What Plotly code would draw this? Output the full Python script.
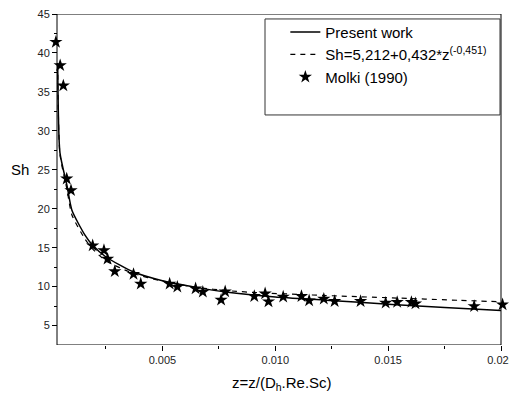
import plotly.graph_objects as go

# Present work (solid line)
present_z = [0.00036, 0.00046, 0.00077, 0.00099, 0.00157, 0.00188, 0.0025, 0.0037,
             0.005, 0.0065, 0.0078, 0.010, 0.01225, 0.01518, 0.0175, 0.0200]
present_sh = [38.7, 27.2, 23.0, 19.8, 16.6, 15.4, 13.8, 11.9,
              10.75, 9.9, 9.3, 8.65, 8.25, 7.7, 7.3, 6.92]

# Correlation Sh=5,212+0,432*z^(-0,451) (dashed line)
corr_z = [0.00036, 0.00046, 0.00077, 0.00099, 0.00157, 0.00188, 0.0025, 0.0037,
          0.005, 0.0065, 0.008, 0.0093, 0.011, 0.01225, 0.01518, 0.01814, 0.0200]
corr_sh = [38.5, 27.0, 22.5, 19.2, 16.1, 14.9, 13.3, 11.7,
           10.7, 9.9, 9.45, 9.2, 9.0, 8.85, 8.55, 8.24, 8.05]

# Molki (1990) experimental points
molki_z = [0.00028, 0.00047, 0.00061, 0.00076, 0.00095, 0.00191, 0.00241, 0.00257,
           0.00289, 0.00372, 0.00404, 0.00532, 0.00566, 0.00647, 0.00679, 0.0076,
           0.00778, 0.00907, 0.00955, 0.0097, 0.01035, 0.01116, 0.0115, 0.01215,
           0.01263, 0.01378, 0.01489, 0.0154, 0.01603, 0.01621, 0.01881, 0.02007]
molki_sh = [41.4, 38.4, 35.8, 23.85, 22.35, 15.26, 14.65, 13.55,
            11.96, 11.6, 10.35, 10.35, 9.96, 9.74, 9.32, 8.29,
            9.36, 8.76, 9.1, 8.08, 8.68, 8.76, 8.2, 8.42,
            8.12, 8.12, 7.9, 8.0, 8.0, 7.82, 7.47, 7.69]

# axis frame limits and the slightly wider drawing area (so edge stars show)
frame_x = [0.00033, 0.0200]
draw_x = [0.000241, 0.020133]
y_range = [2.5, 45]
x_ticks = [0.005, 0.010, 0.015, 0.020]
x_ticklabels = ["0.005", "0.010", "0.015", "0.020"]
y_ticks = [5, 10, 15, 20, 25, 30, 35, 40, 45]

font = "Liberation Sans, Arial, sans-serif"

fig = go.Figure()
fig.add_trace(go.Scatter(x=present_z, y=present_sh, mode="lines", name="Present work",
                         line=dict(color="black", width=1.5, shape="spline", smoothing=0.6),
                         legendgroup="a"))
fig.add_trace(go.Scatter(x=corr_z, y=corr_sh, mode="lines",
                         name="Sh=5,212+0,432*z<sup>(-0,451)</sup>",
                         line=dict(color="black", width=1.2, dash="5px,5px", shape="spline", smoothing=0.6),
                         legendgroup="b"))
fig.add_trace(go.Scatter(x=molki_z, y=molki_sh, mode="markers", name="Molki (1990)",
                         marker=dict(symbol="star", size=10, color="black", line=dict(width=0)),
                         cliponaxis=False, legendgroup="c"))

ypos = (57 - 55) / 449.0

fig.update_layout(
    width=509, height=396,
    margin=dict(l=55, r=5, t=14, b=51, autoexpand=False),
    paper_bgcolor="white", plot_bgcolor="white",
    font=dict(family=font, color="black"),
    showlegend=True,
    legend=dict(x=0.513, y=0.995, xanchor="left", yanchor="top",
                bgcolor="rgba(0,0,0,0)", borderwidth=0,
                font=dict(size=15, family=font, color="black"),
                tracegroupgap=0, traceorder="grouped"),
    shapes=[
        dict(type="rect", xref="x", yref="y",
             x0=frame_x[0], x1=frame_x[1], y0=y_range[0], y1=y_range[1],
             line=dict(color="black", width=1), fillcolor="rgba(0,0,0,0)", layer="above"),
        dict(type="rect", xref="paper", yref="paper",
             x0=(265 - 55) / 449.0, x1=(500 - 55) / 449.0, y0=0.695, y1=0.985,
             line=dict(color="#333", width=1), fillcolor="rgba(0,0,0,0)"),
    ],
    annotations=[
        dict(text="Sh", xref="paper", yref="paper", x=-0.078, y=0.53,
             xanchor="center", yanchor="middle", showarrow=False,
             font=dict(size=15, family=font, color="black")),
        dict(text="z=z/(D<sub>h</sub>.Re.Sc)", xref="paper", yref="paper", x=0.505, y=-0.115,
             xanchor="center", yanchor="middle", showarrow=False,
             font=dict(size=15, family=font, color="black")),
    ],
)

fig.update_xaxes(range=draw_x, showgrid=False, zeroline=False, showline=False,
                 automargin=False,
                 tickmode="array", tickvals=x_ticks, ticktext=x_ticklabels,
                 ticks="outside", ticklen=5, tickwidth=1, tickcolor="black",
                 ticklabeloverflow="allow",
                 tickfont=dict(size=11, family=font, color="#222"),
                 minor=dict(tickmode="array", tickvals=[0.0025, 0.0075, 0.0125, 0.0175],
                            ticks="outside", ticklen=3, tickcolor="black"))
fig.update_yaxes(range=y_range, showgrid=False, zeroline=False, showline=False,
                 automargin=False,
                 anchor="free", position=ypos,
                 tickmode="array", tickvals=y_ticks,
                 ticks="outside", ticklen=5, tickwidth=1, tickcolor="black",
                 tickfont=dict(size=11, family=font, color="#222"),
                 minor=dict(tickmode="array", tickvals=[7.5, 12.5, 17.5, 22.5, 27.5, 32.5, 37.5, 42.5],
                            ticks="outside", ticklen=3, tickcolor="black"))

fig.write_html("out.html")
